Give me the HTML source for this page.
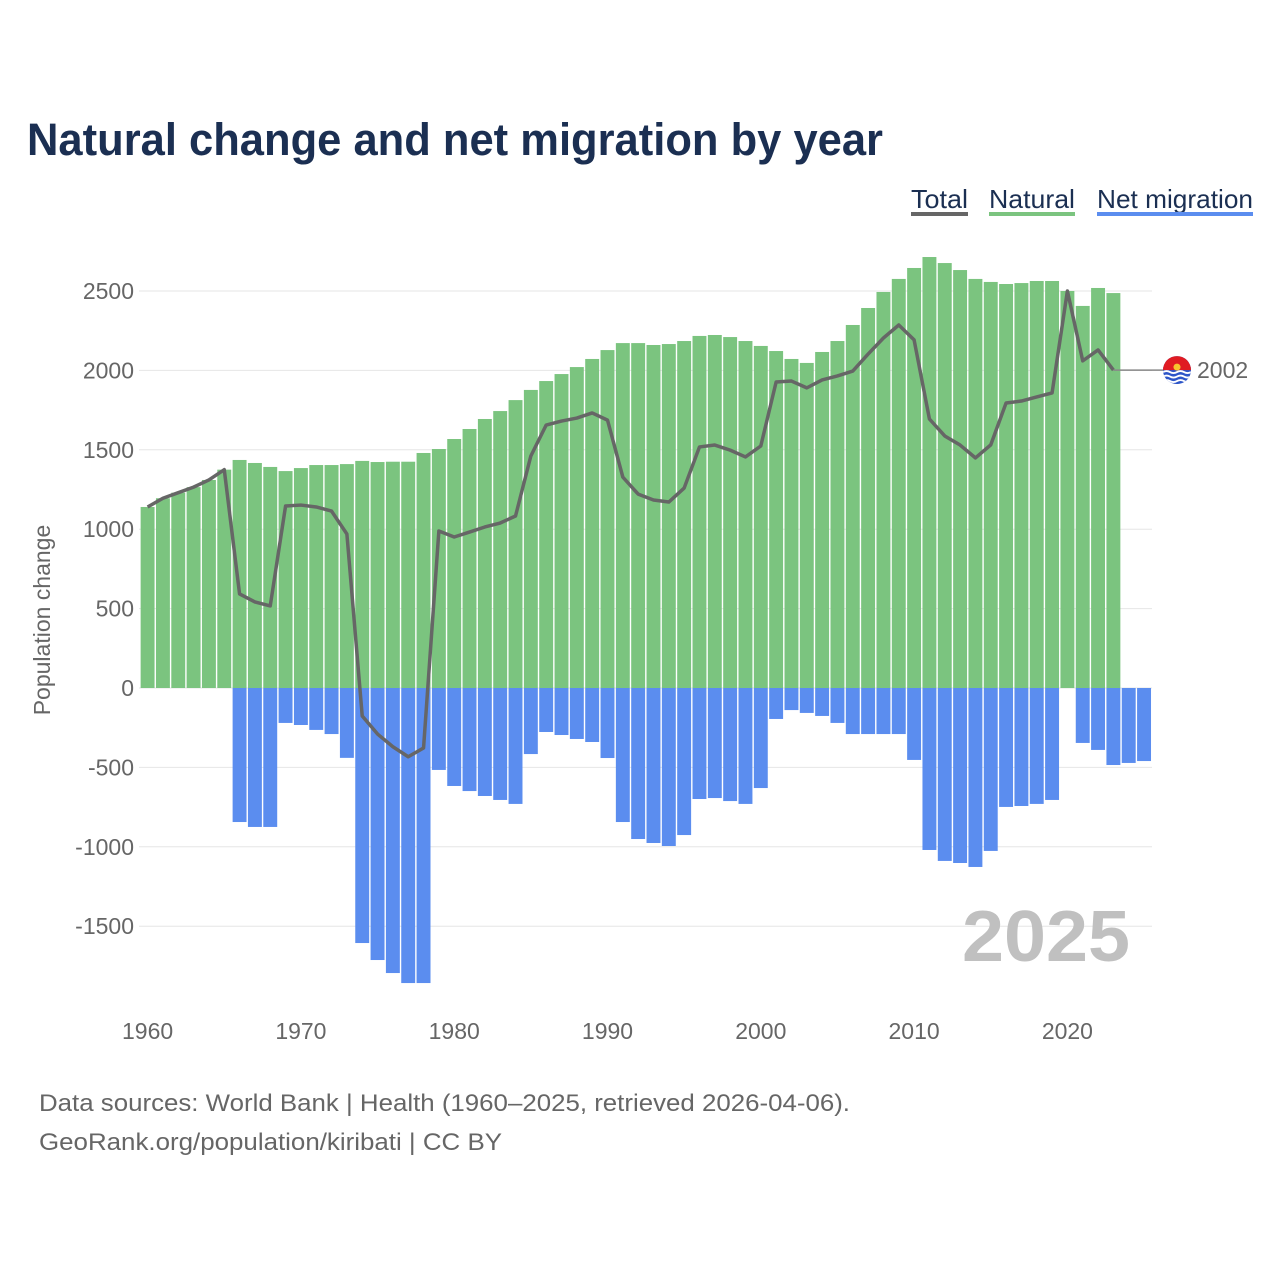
<!DOCTYPE html>
<html><head><meta charset="utf-8"><style>
html,body{margin:0;padding:0;background:#fff;}
svg{display:block;font-family:"Liberation Sans",sans-serif;}
</style></head><body>
<svg id="chart" width="1280" height="1280" viewBox="0 0 1280 1280" xmlns="http://www.w3.org/2000/svg">
<text x="27" y="155" font-size="45" font-weight="bold" fill="#1b2f52" textLength="856" lengthAdjust="spacingAndGlyphs">Natural change and net migration by year</text>
<g>
<g><text x="911" y="208" font-size="26" fill="#1b2f52" textLength="57" lengthAdjust="spacingAndGlyphs">Total</text><rect x="911" y="212" width="57" height="4" fill="#666"/></g>
<g><text x="989" y="208" font-size="26" fill="#1b2f52" textLength="86" lengthAdjust="spacingAndGlyphs">Natural</text><rect x="989" y="212" width="86" height="4" fill="#7bc47f"/></g>
<g><text x="1097" y="208" font-size="26" fill="#1b2f52" textLength="156" lengthAdjust="spacingAndGlyphs">Net migration</text><rect x="1097" y="212" width="156" height="4" fill="#5b8def"/></g>
</g>
<g id="grid"></g>
<g id="yticks"></g>
<g id="xticks"></g>
<text x="1130" y="961" font-size="72" font-weight="bold" fill="#c0c0c0" text-anchor="end" textLength="168" lengthAdjust="spacingAndGlyphs">2025</text>
<g id="bars"></g>
<g id="line"></g>
<text transform="translate(50,620) rotate(-90)" font-size="23" fill="#666" text-anchor="middle">Population change</text>
<text x="39" y="1111" font-size="24" fill="#666" textLength="811" lengthAdjust="spacingAndGlyphs">Data sources: World Bank | Health (1960–2025, retrieved 2026-04-06).</text>
<text x="39" y="1150" font-size="24" fill="#666" textLength="463" lengthAdjust="spacingAndGlyphs">GeoRank.org/population/kiribati | CC BY</text>
</svg>
<script>
const years = [];
for (let y = 1960; y <= 2025; y++) years.push(y);
const natural = [1140,1195,1230,1265,1310,1375,1436,1417,1392,1366,1385,1404,1404,1410,1430,1423,1425,1425,1480,1505,1568,1631,1694,1744,1813,1877,1933,1977,2021,2072,2128,2172,2172,2160,2166,2185,2217,2223,2210,2185,2154,2122,2072,2047,2116,2185,2286,2393,2494,2576,2645,2714,2676,2632,2576,2557,2544,2550,2563,2563,2500,2406,2519,2487,0,0];
const migration = [0,0,0,0,0,0,-844,-875,-875,-220,-233,-264,-290,-440,-1606,-1713,-1795,-1858,-1858,-516,-617,-649,-680,-705,-730,-416,-277,-296,-321,-340,-441,-844,-951,-976,-995,-926,-699,-693,-712,-730,-630,-195,-139,-157,-176,-220,-290,-290,-290,-290,-453,-1020,-1089,-1102,-1127,-1026,-749,-743,-730,-705,0,-346,-390,-485,-472,-460];
const yTicks = [2500,2000,1500,1000,500,0,-500,-1000,-1500];
const xTicks = [1960,1970,1980,1990,2000,2010,2020];
const lastTotalYear = 2023;

const NS = "http://www.w3.org/2000/svg";
const X0 = 139, X1 = 1152;
const step = 15.33;
const xc = yr => 147.6 + (yr - 1960) * step;
const yv = v => 688 - v * 0.1588;
function mk(tag, attrs, parent) {
  const el = document.createElementNS(NS, tag);
  for (const k in attrs) el.setAttribute(k, attrs[k]);
  parent.appendChild(el);
  return el;
}
const grid = document.getElementById('grid');
const yt = document.getElementById('yticks');
yTicks.forEach(v => {
  const l = mk('line', {x1: X0, x2: X1, y1: yv(v), y2: yv(v), stroke: '#e6e6e6', 'stroke-width': 1}, grid);
  
  
  const t = mk('text', {x: 134, y: yv(v) + 8, 'font-size': 23, fill: '#666', 'text-anchor': 'end'}, yt);
  t.textContent = v;
  
  
});
const xt = document.getElementById('xticks');
xTicks.forEach(v => {
  const t = mk('text', {x: xc(v), y: 1039, 'font-size': 23, fill: '#666', 'text-anchor': 'middle'}, xt);
  t.textContent = v;
  
  
});
const bars = document.getElementById('bars');
const bw = step - 1.4;
years.forEach((yr, i) => {
  if (natural[i] > 0) {
    const r = mk('rect', {x: xc(yr) - bw/2, y: yv(natural[i]), width: bw, height: yv(0) - yv(natural[i]), fill: '#7bc47f'}, bars);
    
    
  }
  if (migration[i] < 0) {
    const r = mk('rect', {x: xc(yr) - bw/2, y: yv(0), width: bw, height: yv(migration[i]) - yv(0), fill: '#5b8def'}, bars);
    
    
  }
});
const lg = document.getElementById('line');
const pts = [];
years.forEach((yr, i) => { if (yr <= lastTotalYear) pts.push([xc(yr), yv(natural[i] + migration[i])]); });
const pl = mk('polyline', {points: pts.map(p => p.join(',')).join(' '), fill: 'none', stroke: '#666', 'stroke-width': 3.5, 'stroke-linejoin': 'round'}, lg);


const last = pts[pts.length - 1];
const lastVal = natural[years.indexOf(lastTotalYear)] + migration[years.indexOf(lastTotalYear)];
const conn = mk('line', {x1: last[0], y1: last[1], x2: 1163, y2: last[1], stroke: '#888', 'stroke-width': 1.5}, lg);


const fg = mk('g', {}, lg);


const cy = last[1], cx = 1177;
mk('clipPath', {id: 'fc'}, fg).appendChild(document.createElementNS(NS, 'circle'));
const cc = fg.querySelector('clipPath circle'); cc.setAttribute('cx', cx); cc.setAttribute('cy', cy); cc.setAttribute('r', 14);
const inner = mk('g', {'clip-path': 'url(#fc)'}, fg);
mk('rect', {x: cx-14, y: cy-14, width: 28, height: 28, fill: '#2d55c8'}, inner);
mk('rect', {x: cx-14, y: cy-14, width: 28, height: 14, fill: '#e01b22'}, inner);
mk('circle', {cx: cx, cy: cy-3, r: 3.5, fill: '#f7c32e'}, inner);
for (let k = 0; k < 3; k++) {
  const yy = cy + 2 + k*4.5;
  mk('path', {d: `M${cx-14},${yy} q3.5,-2 7,0 t7,0 t7,0 t7,0`, fill: 'none', stroke: '#fff', 'stroke-width': 1.8}, inner);
}
const lt = mk('text', {x: 1197, y: cy + 8, 'font-size': 23, fill: '#666'}, lg);
lt.textContent = lastVal;


</script>
</body></html>
